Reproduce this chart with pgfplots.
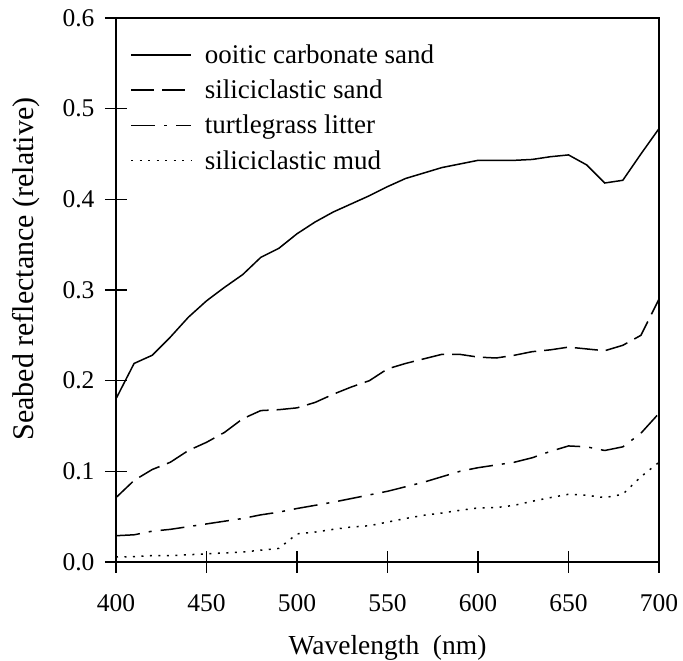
\documentclass[border=0pt]{standalone}
\usepackage{fontspec}
\setmainfont{Liberation Serif}
\usepackage{pgfplots}
\pgfplotsset{compat=1.18}
\usepackage{pgfplotstable}

% Seabed reflectance spectra, 400--700 nm in 10 nm steps
\pgfplotstableread{
wl    ooid   sil    turtle mud
400   0.180  0.071  0.029  0.0055
410   0.219  0.090  0.030  0.006
420   0.228  0.102  0.034  0.007
430   0.248  0.110  0.036  0.007
440   0.270  0.123  0.039  0.008
450   0.288  0.132  0.042  0.009
460   0.303  0.143  0.045  0.010
470   0.317  0.158  0.048  0.011
480   0.336  0.167  0.052  0.013
490   0.346  0.168  0.055  0.015
500   0.362  0.170  0.059  0.031
510   0.375  0.176  0.0625 0.033
520   0.386  0.185  0.066  0.036
530   0.395  0.193  0.070  0.0386
540   0.404  0.200  0.074  0.040
550   0.414  0.213  0.078  0.044
560   0.423  0.219  0.083  0.048
570   0.429  0.224  0.088  0.0515
580   0.435  0.229  0.094  0.054
590   0.439  0.229  0.100  0.057
600   0.443  0.226  0.104  0.0596
610   0.443  0.225  0.107  0.060
620   0.443  0.228  0.110  0.0625
630   0.444  0.232  0.115  0.067
640   0.447  0.234  0.122  0.071
650   0.449  0.237  0.128  0.0747
660   0.438  0.235  0.127  0.0736
670   0.418  0.233  0.123  0.071
680   0.421  0.239  0.127  0.0747
690   0.450  0.250  0.142  0.094
700   0.478  0.290  0.164  0.110
}\spectra

\begin{document}
\begin{tikzpicture}
\useasboundingbox (-116pt,-99pt) rectangle (567pt,562pt);
\begin{axis}[
  at={(0pt,0pt)}, anchor=south west,
  scale only axis, width=543pt, height=544pt,
  xmin=400, xmax=700, ymin=0, ymax=0.6,
  xtick={400,450,...,700},
  ytick={0,0.1,...,0.6},
  xtick pos=left, ytick pos=left,
  tick align=center,
  major tick length=22pt,
  tick style={line width=1.3pt, black},
  axis line style={line width=1.3pt},
  /pgf/number format/assume math mode=true,
  ticklabel style={font=\fontsize{25.5}{30}\selectfont},
  yticklabel style={xshift=-7pt, /pgf/number format/.cd, fixed, fixed zerofill, precision=1},
  xticklabel style={yshift=-18pt, /pgf/number format/.cd, 1000 sep={}},
  scaled y ticks=false,
  xlabel={Wavelength\ \ (nm)},
  ylabel={Seabed reflectance (relative)},
  xlabel style={yshift=-17pt, font=\fontsize{27.5}{32}\selectfont},
  ylabel style={yshift=16pt, xshift=21pt, font=\fontsize{30}{35}\selectfont},
  legend cell align=left,
  legend style={draw=none, fill=none, inner sep=0pt,
    at={(axis description cs:0.026,0.955)}, anchor=north west,
    row sep=11pt, font=\fontsize{27}{32}\selectfont},
  legend image code/.code={\draw[#1] (0pt,0pt) -- (60pt,0pt); \path (71pt,0pt);},
  every axis plot/.append style={line width=1.5pt, black},
]
\addplot[solid] table[x=wl, y=ooid] {\spectra};
\addlegendentry{ooitic carbonate sand}
\addplot[dash pattern=on 23pt off 8pt] table[x=wl, y=sil] {\spectra};
\addlegendentry{siliciclastic sand}
\addplot[dash pattern=on 24pt off 9pt on 3pt off 9pt] table[x=wl, y=turtle] {\spectra};
\addlegendentry{turtlegrass litter}
\addplot[dash pattern=on 2pt off 6.5pt] table[x=wl, y=mud] {\spectra};
\addlegendentry{siliciclastic mud}
\end{axis}
\end{tikzpicture}
\end{document}
